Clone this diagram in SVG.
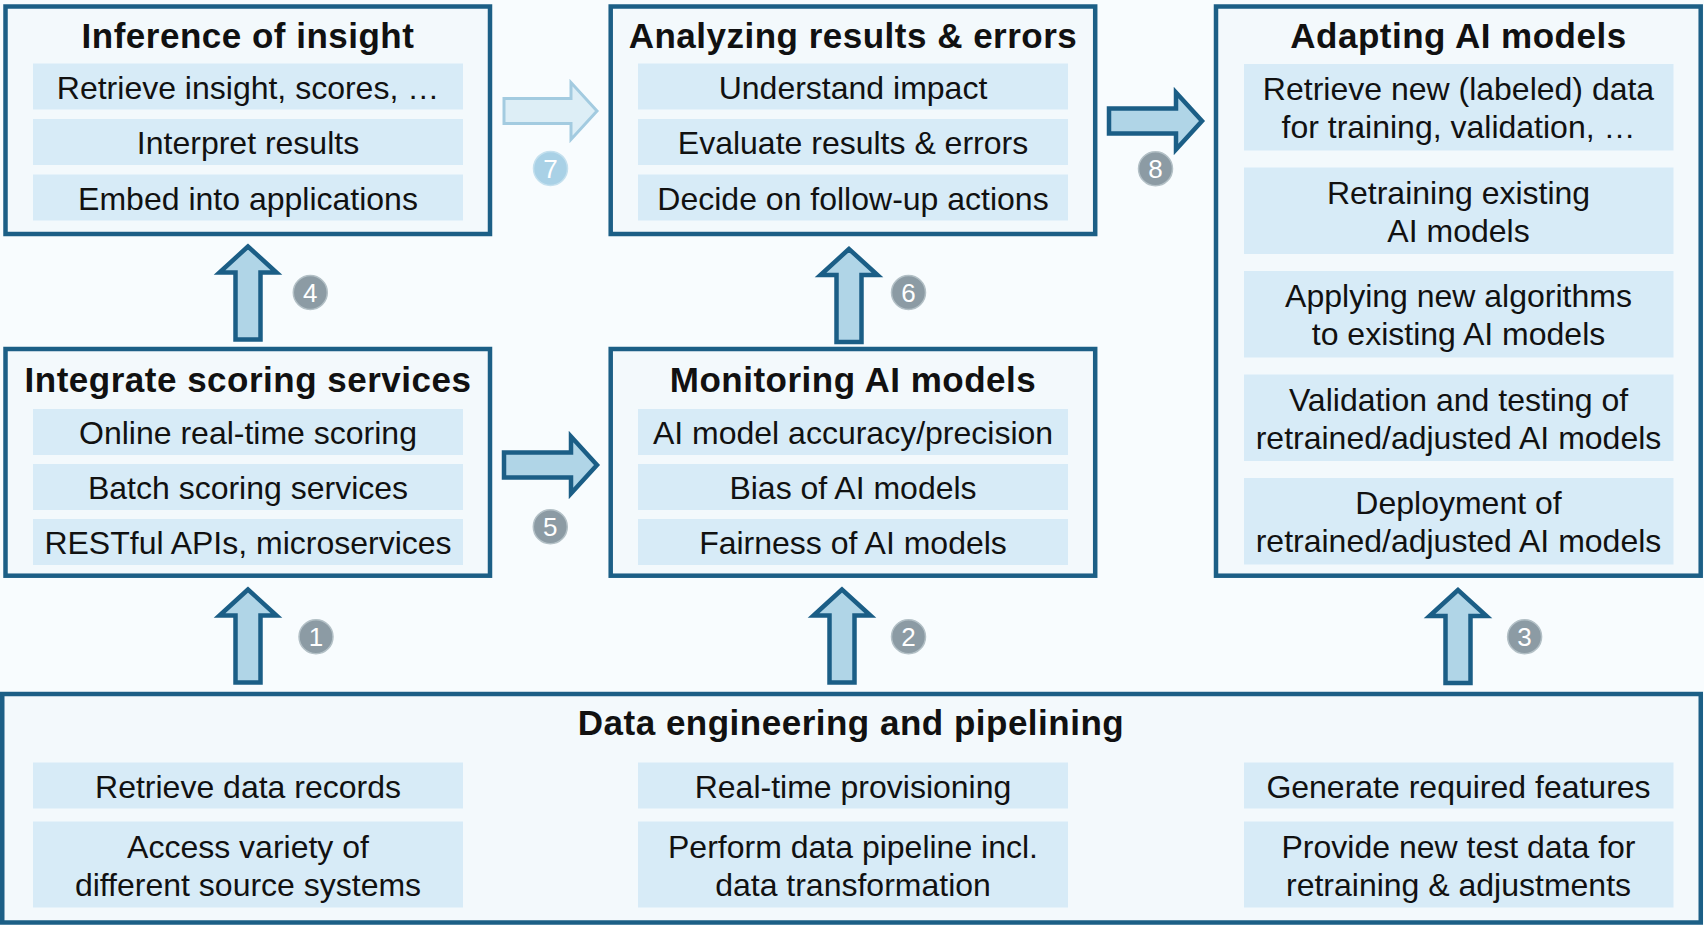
<svg xmlns="http://www.w3.org/2000/svg" xmlns:xlink="http://www.w3.org/1999/xlink" width="1704" height="925" viewBox="0 0 1704 925">
  <style>
    .box { fill: #F3F9FC; stroke: #1C5F86; stroke-width: 4.5; }
    .item { fill: #D7EBF7; }
    .title { font-family: "Liberation Sans", Arial, sans-serif; font-weight: bold; font-size: 35px; letter-spacing: 0.5px; fill: #111; text-anchor: middle; }
    .txt { font-family: "Liberation Sans", Arial, sans-serif; font-size: 32px; fill: #111; text-anchor: middle; }
    .arrow { fill: #B0D5E7; stroke: #1B5E86; stroke-width: 4.5; stroke-linejoin: miter; }
    .arrow-ghost { fill: #DDEEF6; stroke: #A3CBE0; stroke-width: 3; stroke-linejoin: miter; }
    .badge { fill: #8C9BA4; stroke: #B3C0C6; stroke-width: 1.5; }
    .badge-light { fill: #A9D1E6; stroke: #C4E0EE; stroke-width: 1.5; }
    .num { font-family: "Liberation Sans", Arial, sans-serif; font-size: 26px; fill: #FFFFFF; text-anchor: middle; }
  </style>
  <defs>
    <path id="blockArrow" d="M0,0 L-26,-28.5 L-26,-12.5 L-93,-12.5 L-93,12.5 L-26,12.5 L-26,28.5 Z"/>
  </defs>

  <rect x="0" y="0" width="1704" height="925" fill="#F8FCFE"/>

  <g id="node-inference">
    <rect class="box" x="5.5" y="6.5" width="484.5" height="227.5"/>
    <text class="title" x="248" y="48">Inference of insight</text>
    <rect class="item" x="33" y="63.5" width="430" height="46"/>
    <text class="txt" x="248" y="98.5">Retrieve insight, scores, …</text>
    <rect class="item" x="33" y="119" width="430" height="46"/>
    <text class="txt" x="248" y="154">Interpret results</text>
    <rect class="item" x="33" y="174.5" width="430" height="46"/>
    <text class="txt" x="248" y="209.5">Embed into applications</text>
  </g>

  <g id="node-analyzing">
    <rect class="box" x="610.7" y="6.5" width="484.5" height="227.5"/>
    <text class="title" x="853" y="48">Analyzing results &amp; errors</text>
    <rect class="item" x="638" y="63.5" width="430" height="46"/>
    <text class="txt" x="853" y="98.5">Understand impact</text>
    <rect class="item" x="638" y="119" width="430" height="46"/>
    <text class="txt" x="853" y="154">Evaluate results &amp; errors</text>
    <rect class="item" x="638" y="174.5" width="430" height="46"/>
    <text class="txt" x="853" y="209.5">Decide on follow-up actions</text>
  </g>

  <g id="node-adapting">
    <rect class="box" x="1216" y="6.5" width="484.7" height="569.2"/>
    <text class="title" x="1458.5" y="48">Adapting AI models</text>
    <rect class="item" x="1244" y="64" width="429.5" height="86.5"/>
    <text class="txt" x="1458.5" y="100.25">Retrieve new (labeled) data</text>
    <text class="txt" x="1458.5" y="138.25">for training, validation, …</text>
    <rect class="item" x="1244" y="167.5" width="429.5" height="86.5"/>
    <text class="txt" x="1458.5" y="203.75">Retraining existing</text>
    <text class="txt" x="1458.5" y="241.75">AI models</text>
    <rect class="item" x="1244" y="271" width="429.5" height="86.5"/>
    <text class="txt" x="1458.5" y="307.25">Applying new algorithms</text>
    <text class="txt" x="1458.5" y="345.25">to existing AI models</text>
    <rect class="item" x="1244" y="374.5" width="429.5" height="86.5"/>
    <text class="txt" x="1458.5" y="410.75">Validation and testing of</text>
    <text class="txt" x="1458.5" y="448.75">retrained/adjusted AI models</text>
    <rect class="item" x="1244" y="478" width="429.5" height="86.5"/>
    <text class="txt" x="1458.5" y="514.25">Deployment of</text>
    <text class="txt" x="1458.5" y="552.25">retrained/adjusted AI models</text>
  </g>

  <g id="node-integrate">
    <rect class="box" x="5.5" y="349" width="484.5" height="226.7"/>
    <text class="title" x="248" y="392">Integrate scoring services</text>
    <rect class="item" x="33" y="409" width="430" height="46"/>
    <text class="txt" x="248" y="444">Online real-time scoring</text>
    <rect class="item" x="33" y="464" width="430" height="46"/>
    <text class="txt" x="248" y="499">Batch scoring services</text>
    <rect class="item" x="33" y="519" width="430" height="46"/>
    <text class="txt" x="248" y="554">RESTful APIs, microservices</text>
  </g>

  <g id="node-monitoring">
    <rect class="box" x="610.7" y="349" width="484.5" height="226.7"/>
    <text class="title" x="853" y="392">Monitoring AI models</text>
    <rect class="item" x="638" y="409" width="430" height="46"/>
    <text class="txt" x="853" y="444">AI model accuracy/precision</text>
    <rect class="item" x="638" y="464" width="430" height="46"/>
    <text class="txt" x="853" y="499">Bias of AI models</text>
    <rect class="item" x="638" y="519" width="430" height="46"/>
    <text class="txt" x="853" y="554">Fairness of AI models</text>
  </g>

  <g id="node-data-engineering">
    <rect class="box" x="2.25" y="694" width="1698.5" height="228.5"/>
    <text class="title" x="851" y="735">Data engineering and pipelining</text>
    <rect class="item" x="33" y="762.5" width="430" height="46"/>
    <text class="txt" x="248" y="797.5">Retrieve data records</text>
    <rect class="item" x="33" y="821.5" width="430" height="86"/>
    <text class="txt" x="248" y="857.5">Access variety of</text>
    <text class="txt" x="248" y="895.5">different source systems</text>
    <rect class="item" x="638" y="762.5" width="430" height="46"/>
    <text class="txt" x="853" y="797.5">Real-time provisioning</text>
    <rect class="item" x="638" y="821.5" width="430" height="86"/>
    <text class="txt" x="853" y="857.5">Perform data pipeline incl.</text>
    <text class="txt" x="853" y="895.5">data transformation</text>
    <rect class="item" x="1244" y="762.5" width="429.5" height="46"/>
    <text class="txt" x="1458.5" y="797.5">Generate required features</text>
    <rect class="item" x="1244" y="821.5" width="429.5" height="86"/>
    <text class="txt" x="1458.5" y="857.5">Provide new test data for</text>
    <text class="txt" x="1458.5" y="895.5">retraining &amp; adjustments</text>
  </g>

  <g id="connectors">
    <!-- 1: data engineering -> integrate -->
    <use xlink:href="#blockArrow" href="#blockArrow" class="arrow" transform="translate(248,589.5) rotate(-90)"/>
    <!-- 2: data engineering -> monitoring -->
    <use xlink:href="#blockArrow" href="#blockArrow" class="arrow" transform="translate(842,589.5) rotate(-90)"/>
    <!-- 3: data engineering -> adapting -->
    <use xlink:href="#blockArrow" href="#blockArrow" class="arrow" transform="translate(1458,590) rotate(-90)"/>
    <!-- 4: integrate -> inference -->
    <use xlink:href="#blockArrow" href="#blockArrow" class="arrow" transform="translate(248,246.5) rotate(-90)"/>
    <!-- 5: integrate -> monitoring -->
    <use xlink:href="#blockArrow" href="#blockArrow" class="arrow" transform="translate(597,465)"/>
    <!-- 6: monitoring -> analyzing -->
    <use xlink:href="#blockArrow" href="#blockArrow" class="arrow" transform="translate(849,249) rotate(-90)"/>
    <!-- 7: inference -> analyzing (light) -->
    <use xlink:href="#blockArrow" href="#blockArrow" class="arrow-ghost" transform="translate(597,111)"/>
    <!-- 8: analyzing -> adapting -->
    <use xlink:href="#blockArrow" href="#blockArrow" class="arrow" transform="translate(1202,121)"/>
  </g>

  <g id="badges">
    <g id="badge-1"><circle class="badge" cx="316" cy="636.8" r="17"/><text class="num" x="316" y="646.2">1</text></g>
    <g id="badge-2"><circle class="badge" cx="908.5" cy="636.8" r="17"/><text class="num" x="908.5" y="646.2">2</text></g>
    <g id="badge-3"><circle class="badge" cx="1524.6" cy="636.8" r="17"/><text class="num" x="1524.6" y="646.2">3</text></g>
    <g id="badge-4"><circle class="badge" cx="310.3" cy="292.5" r="17"/><text class="num" x="310.3" y="301.9">4</text></g>
    <g id="badge-5"><circle class="badge" cx="550.3" cy="526.8" r="17"/><text class="num" x="550.3" y="536.2">5</text></g>
    <g id="badge-6"><circle class="badge" cx="908.5" cy="292.5" r="17"/><text class="num" x="908.5" y="301.9">6</text></g>
    <g id="badge-7"><circle class="badge-light" cx="550.5" cy="168.4" r="17"/><text class="num" x="550.5" y="177.8">7</text></g>
    <g id="badge-8"><circle class="badge" cx="1155.5" cy="168.7" r="17"/><text class="num" x="1155.5" y="178.1">8</text></g>
  </g>
</svg>
